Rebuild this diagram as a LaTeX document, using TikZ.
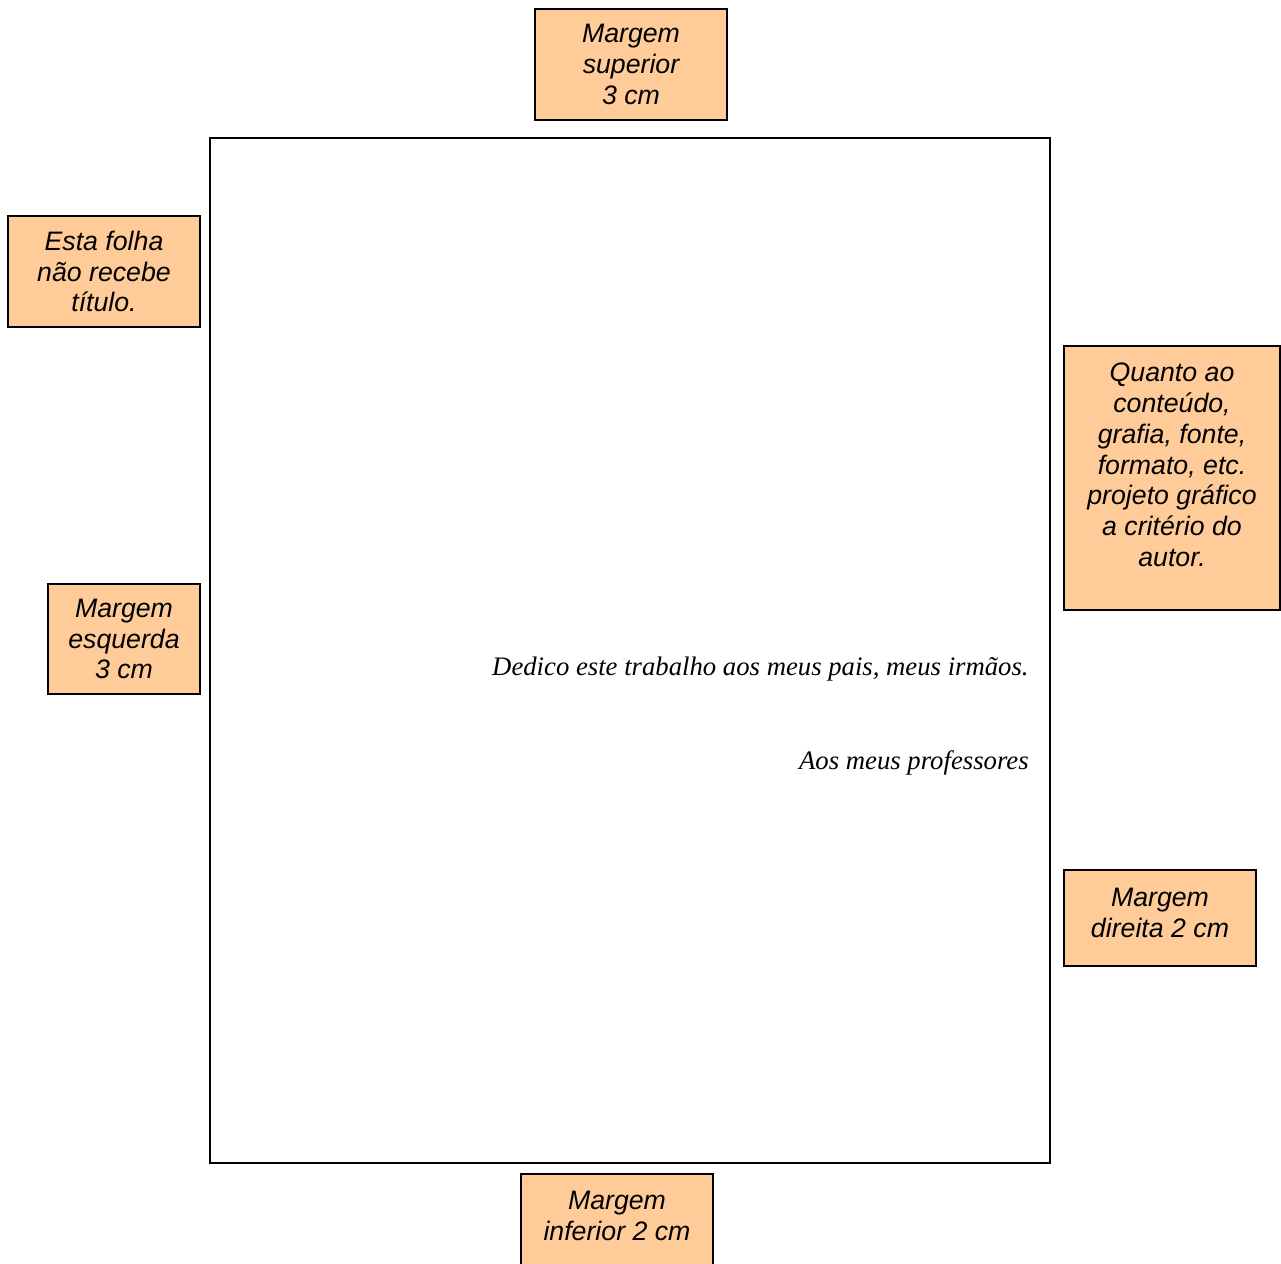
\documentclass[tikz,border=0pt]{standalone}
\usepackage{fontspec}
\setmainfont{Liberation Serif}
\setsansfont{Liberation Sans}
\usepackage{tikz}
\usetikzlibrary{positioning}
\definecolor{pessego}{HTML}{FFCC99}

\begin{document}
\begin{tikzpicture}[x=0.2mm,y=-0.2mm,
		every node/.style={align=center,inner sep=0pt}]
		\tikzstyle{nota}=[draw=black,fill=pessego,line width=0.8pt,
			font=\sffamily\itshape\fontsize{15.2}{17.5}\selectfont]
		\tikzstyle{dedica}=[font=\rmfamily\itshape\fontsize{15.2}{17.5}\selectfont]
		\useasboundingbox (0,0) rectangle (1281,1263);
		
		% folha
		\node[draw=black,line width=1pt,minimum width=840*0.2mm,minimum height=1025*0.2mm] (folha) at (630,650.5) {};
		
		\node[nota,minimum width=192*0.2mm,minimum height=111*0.2mm] (sup) at (631,64.5) {Margem \\ superior \\ 3 cm};
		\node[nota,minimum width=192*0.2mm,minimum height=111*0.2mm] (titulo) at (104,271.5) {Esta folha \\ não recebe \\ título.};
		\node[nota,minimum width=152*0.2mm,minimum height=110*0.2mm] (esq) at (124,639) {Margem \\ esquerda \\ 3 cm};
		\node[nota,minimum width=216*0.2mm,minimum height=264*0.2mm,text depth=15pt] (conteudo) at (1172,478) {Quanto ao \\ conteúdo, \\ grafia, fonte, \\ formato, etc. \\ projeto gráfico \\ a critério do \\ autor.};
		\node[nota,minimum width=192*0.2mm,minimum height=96*0.2mm,text depth=6.2pt] (dir) at (1160,918) {Margem \\ direita 2 cm};
		\node[nota,minimum width=192*0.2mm,minimum height=114*0.2mm,text depth=17.6pt] (inf) at (617,1231) {Margem \\ inferior 2 cm};
		
		% dedicatoria
		\node[dedica,anchor=base east] (dedico) at (1029,675) {Dedico este trabalho aos meus pais, meus irmãos.};
		\node[dedica,anchor=base east] (profs) at (1029,769) {Aos meus professores};
		
\end{tikzpicture}
\end{document}
